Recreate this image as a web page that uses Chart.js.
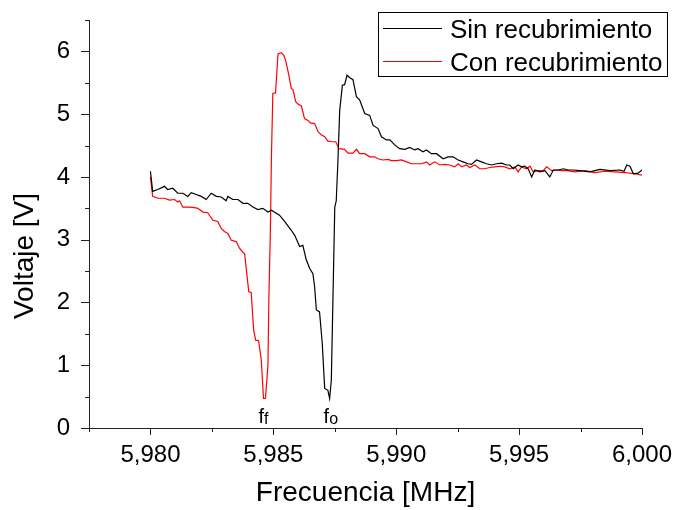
<!DOCTYPE html>
<html>
<head>
<meta charset="utf-8">
<script src="https://cdn.jsdelivr.net/npm/chart.js@4/dist/chart.umd.min.js"></script>
<style>
html, body { margin: 0; padding: 0; background: #fff; }
</style>
</head>
<body>
<canvas id="mainchart" width="676" height="510"></canvas>
<script>
// Sin recubrimiento (black)
var sinFreq = [5.98000, 5.98009, 5.98030, 5.98057, 5.98070, 5.98091, 5.98111, 5.98132, 5.98152, 5.98166,
    5.98186, 5.98207, 5.98227, 5.98247, 5.98268, 5.98288, 5.98308, 5.98315, 5.98335, 5.98356,
    5.98376, 5.98396, 5.98417, 5.98437, 5.98457, 5.98478, 5.98492, 5.98525, 5.98546, 5.98573,
    5.98587, 5.98607, 5.98620, 5.98634, 5.98648, 5.98661, 5.98668, 5.98675, 5.98688, 5.98699,
    5.98709, 5.98722, 5.98729, 5.98736, 5.98750, 5.98756, 5.98763, 5.98770, 5.98781, 5.98790,
    5.98800, 5.98811, 5.98824, 5.98838, 5.98851, 5.98872, 5.98892, 5.98906, 5.98926, 5.98940,
    5.98960, 5.98974, 5.98994, 5.99014, 5.99035, 5.99055, 5.99075, 5.99089, 5.99109, 5.99123,
    5.99143, 5.99164, 5.99191, 5.99211, 5.99231, 5.99252, 5.99272, 5.99292, 5.99306, 5.99327,
    5.99347, 5.99367, 5.99388, 5.99408, 5.99429, 5.99449, 5.99462, 5.99476, 5.99496, 5.99510,
    5.99523, 5.99537, 5.99551, 5.99564, 5.99585, 5.99605, 5.99625, 5.99639, 5.99659, 5.99680,
    5.99700, 5.99720, 5.99747, 5.99788, 5.99829, 5.99870, 5.99910, 5.99927, 5.99938, 5.99951,
    5.99965, 5.99984, 6.00000];
var sinVolt = [4.09, 3.77, 3.80, 3.85, 3.80, 3.82, 3.74, 3.74, 3.69, 3.75,
    3.72, 3.69, 3.64, 3.74, 3.69, 3.68, 3.62, 3.69, 3.64, 3.64,
    3.58, 3.58, 3.52, 3.48, 3.50, 3.44, 3.47, 3.39, 3.29, 3.15,
    3.07, 2.89, 2.91, 2.68, 2.54, 2.46, 2.25, 1.88, 1.85, 1.35,
    0.63, 0.60, 0.47, 0.76, 3.52, 3.62, 4.27, 5.06, 5.46, 5.47,
    5.62, 5.58, 5.55, 5.28, 5.23, 5.01, 4.98, 4.82, 4.77, 4.64,
    4.59, 4.59, 4.51, 4.45, 4.44, 4.47, 4.43, 4.45, 4.40, 4.43,
    4.37, 4.37, 4.29, 4.32, 4.32, 4.27, 4.24, 4.21, 4.20, 4.27,
    4.24, 4.21, 4.19, 4.21, 4.22, 4.19, 4.19, 4.13, 4.19, 4.16,
    4.17, 4.13, 4.00, 4.11, 4.08, 4.10, 4.00, 4.11, 4.11, 4.13,
    4.11, 4.11, 4.10, 4.08, 4.12, 4.10, 4.11, 4.09, 4.19, 4.17,
    4.05, 4.06, 4.11];

// Con recubrimiento (red)
var conFreq = [5.98000, 5.98009, 5.98030, 5.98057, 5.98077, 5.98098, 5.98111, 5.98118, 5.98132, 5.98159,
    5.98179, 5.98193, 5.98213, 5.98233, 5.98254, 5.98274, 5.98288, 5.98301, 5.98315, 5.98329,
    5.98349, 5.98363, 5.98376, 5.98383, 5.98400, 5.98410, 5.98420, 5.98428, 5.98440, 5.98451,
    5.98460, 5.98468, 5.98478, 5.98482, 5.98488, 5.98492, 5.98498, 5.98509, 5.98519, 5.98532,
    5.98542, 5.98550, 5.98563, 5.98573, 5.98580, 5.98591, 5.98600, 5.98614, 5.98627, 5.98641,
    5.98651, 5.98668, 5.98682, 5.98695, 5.98709, 5.98722, 5.98736, 5.98754, 5.98767, 5.98790,
    5.98804, 5.98824, 5.98838, 5.98851, 5.98872, 5.98892, 5.98912, 5.98926, 5.98946, 5.98967,
    5.98980, 5.99001, 5.99021, 5.99042, 5.99062, 5.99082, 5.99103, 5.99123, 5.99136, 5.99157,
    5.99177, 5.99198, 5.99218, 5.99238, 5.99252, 5.99266, 5.99286, 5.99299, 5.99320, 5.99340,
    5.99360, 5.99381, 5.99401, 5.99422, 5.99442, 5.99462, 5.99483, 5.99496, 5.99510, 5.99530,
    5.99544, 5.99557, 5.99578, 5.99598, 5.99612, 5.99633, 5.99653, 5.99674, 5.99694, 5.99728,
    5.99768, 5.99809, 5.99849, 5.99890, 5.99931, 5.99972, 6.00000];
var conVolt = [4.00, 3.69, 3.66, 3.66, 3.63, 3.64, 3.60, 3.62, 3.52, 3.52,
    3.51, 3.50, 3.44, 3.43, 3.31, 3.29, 3.18, 3.13, 3.10, 2.99,
    2.97, 2.86, 2.80, 2.78, 2.17, 2.16, 1.56, 1.40, 1.39, 1.08,
    0.47, 0.47, 1.00, 2.09, 3.15, 4.27, 5.33, 5.34, 5.96, 5.98,
    5.94, 5.86, 5.62, 5.41, 5.39, 5.20, 5.16, 5.13, 4.93, 4.90,
    4.86, 4.85, 4.72, 4.67, 4.64, 4.57, 4.56, 4.56, 4.45, 4.44,
    4.38, 4.38, 4.44, 4.37, 4.37, 4.32, 4.32, 4.29, 4.27, 4.28,
    4.26, 4.26, 4.27, 4.24, 4.21, 4.21, 4.21, 4.24, 4.19, 4.24,
    4.19, 4.20, 4.19, 4.16, 4.21, 4.16, 4.19, 4.15, 4.19, 4.13,
    4.13, 4.15, 4.16, 4.17, 4.16, 4.13, 4.16, 4.08, 4.16, 4.13,
    4.17, 4.08, 4.10, 4.10, 4.16, 4.10, 4.11, 4.10, 4.10, 4.08,
    4.10, 4.07, 4.09, 4.08, 4.07, 4.05, 4.03];

var xTicks = [5.980, 5.985, 5.990, 5.995, 6.000];
var xMinor = [5.9775, 5.9825, 5.9875, 5.9925, 5.9975];
var yTicks = [0, 1, 2, 3, 4, 5, 6];
var yMinor = [0.5, 1.5, 2.5, 3.5, 4.5, 5.5, 6.5];

// resonance marks under the dips: f_f (con), f_o (sin)
var markFreq = [5.98464, 5.98729];
var markSub = ['f', 'o'];

var yTitle = 'Voltaje [V]';
var font = '"Liberation Sans", Arial, sans-serif';

function toPoints(xs, ys) {
    var pts = [];
    for (var i = 0; i < xs.length; i++) {
        pts.push({x: xs[i], y: ys[i]});
    }
    return pts;
}

var extras = {
    id: 'extras',
    afterDraw: function (chart) {
        var ctx = chart.ctx;
        var sx = chart.scales.x;
        var sy = chart.scales.y;
        var area = chart.chartArea;
        ctx.save();
        ctx.strokeStyle = '#222';
        ctx.lineWidth = 1;
        // tick marks, pointing out
        function xTick(v, len) {
            var px = Math.round(sx.getPixelForValue(v)) + 0.5;
            ctx.beginPath();
            ctx.moveTo(px, area.bottom);
            ctx.lineTo(px, area.bottom + len);
            ctx.stroke();
        }
        function yTick(v, len) {
            var py = Math.round(sy.getPixelForValue(v)) + 0.5;
            ctx.beginPath();
            ctx.moveTo(area.left, py);
            ctx.lineTo(area.left - len, py);
            ctx.stroke();
        }
        xTicks.forEach(function (v) { xTick(v, 7); });
        xMinor.forEach(function (v) { xTick(v, 4); });
        yTicks.forEach(function (v) { yTick(v, 8); });
        yMinor.forEach(function (v) { yTick(v, 4); });

        // y title (sits a bit below the axis middle, as in the original)
        ctx.fillStyle = '#000';
        ctx.font = '28px ' + font;
        ctx.textAlign = 'center';
        ctx.textBaseline = 'middle';
        ctx.save();
        ctx.translate(25, 256);
        ctx.rotate(-Math.PI / 2);
        ctx.fillText(yTitle, 0, 0);
        ctx.restore();

        // f_f and f_o labels
        ctx.textBaseline = 'alphabetic';
        ctx.textAlign = 'left';
        for (var i = 0; i < markFreq.length; i++) {
            var px = sx.getPixelForValue(markFreq[i]) - 6;
            ctx.font = '20px ' + font;
            ctx.fillText('f', px, 423);
            var w = ctx.measureText('f').width;
            ctx.font = '16px ' + font;
            ctx.fillText(markSub[i], px + w, 424);
        }

        // legend box
        var lx = 378, ly = 12, lw = 289, lh = 64;
        ctx.fillStyle = '#fff';
        ctx.fillRect(lx, ly, lw, lh);
        ctx.strokeStyle = '#000';
        ctx.strokeRect(lx + 0.5, ly + 0.5, lw, lh);
        ctx.font = '26px ' + font;
        chart.data.datasets.forEach(function (ds, k) {
            var yy = 28.5 + k * 33;
            ctx.strokeStyle = ds.borderColor;
            ctx.beginPath();
            ctx.moveTo(383, yy);
            ctx.lineTo(442, yy);
            ctx.stroke();
            ctx.fillStyle = '#000';
            ctx.fillText(ds.label, 450, yy + 9.5);
        });
        ctx.restore();
    }
};

var chartElement = document.getElementById('mainchart');
var chart = new Chart(chartElement.getContext('2d'), {
    type: 'scatter',
    data: {
        datasets: [{
            label: 'Sin recubrimiento',
            data: toPoints(sinFreq, sinVolt),
            borderColor: '#000000',
            backgroundColor: '#000000',
            showLine: true,
            pointRadius: 0,
            borderWidth: 1.2
        }, {
            label: 'Con recubrimiento',
            data: toPoints(conFreq, conVolt),
            borderColor: '#ff0000',
            backgroundColor: '#ff0000',
            showLine: true,
            pointRadius: 0,
            borderWidth: 1.2
        }]
    },
    options: {
        responsive: false,
        animation: false,
        devicePixelRatio: 1,
        layout: {padding: {top: 20, right: 34, left: 0, bottom: 0}},
        plugins: {legend: {display: false}, tooltip: {enabled: false}},
        scales: {
            x: {
                type: 'linear',
                min: 5.9775,
                max: 6.000,
                afterBuildTicks: function (scale) {
                    scale.ticks = xTicks.map(function (v) { return {value: v}; });
                },
                afterFit: function (scale) {
                    scale.height = 82;
                    scale.paddingLeft = 0;
                    scale.paddingRight = 0;
                },
                grid: {display: false},
                border: {display: true, color: '#222', width: 1},
                ticks: {
                    color: '#000',
                    padding: 5,
                    maxRotation: 0,
                    font: {family: font, size: 24},
                    callback: function (v) { return Number(v).toFixed(3).replace('.', ','); }
                },
                title: {
                    display: true,
                    text: 'Frecuencia [MHz]',
                    color: '#000',
                    font: {family: font, size: 28},
                    padding: {top: 0, bottom: 0}
                }
            },
            y: {
                type: 'linear',
                min: 0,
                max: 6.5,
                afterBuildTicks: function (scale) {
                    scale.ticks = yTicks.map(function (v) { return {value: v}; });
                },
                afterFit: function (scale) {
                    scale.width = 89;
                    scale.paddingTop = 0;
                    scale.paddingBottom = 0;
                },
                grid: {display: false},
                border: {display: true, color: '#222', width: 1},
                ticks: {
                    color: '#000',
                    padding: 11,
                    font: {family: font, size: 24}
                },
                title: {display: false}
            }
        }
    },
    plugins: [extras]
});
</script>
</body>
</html>
